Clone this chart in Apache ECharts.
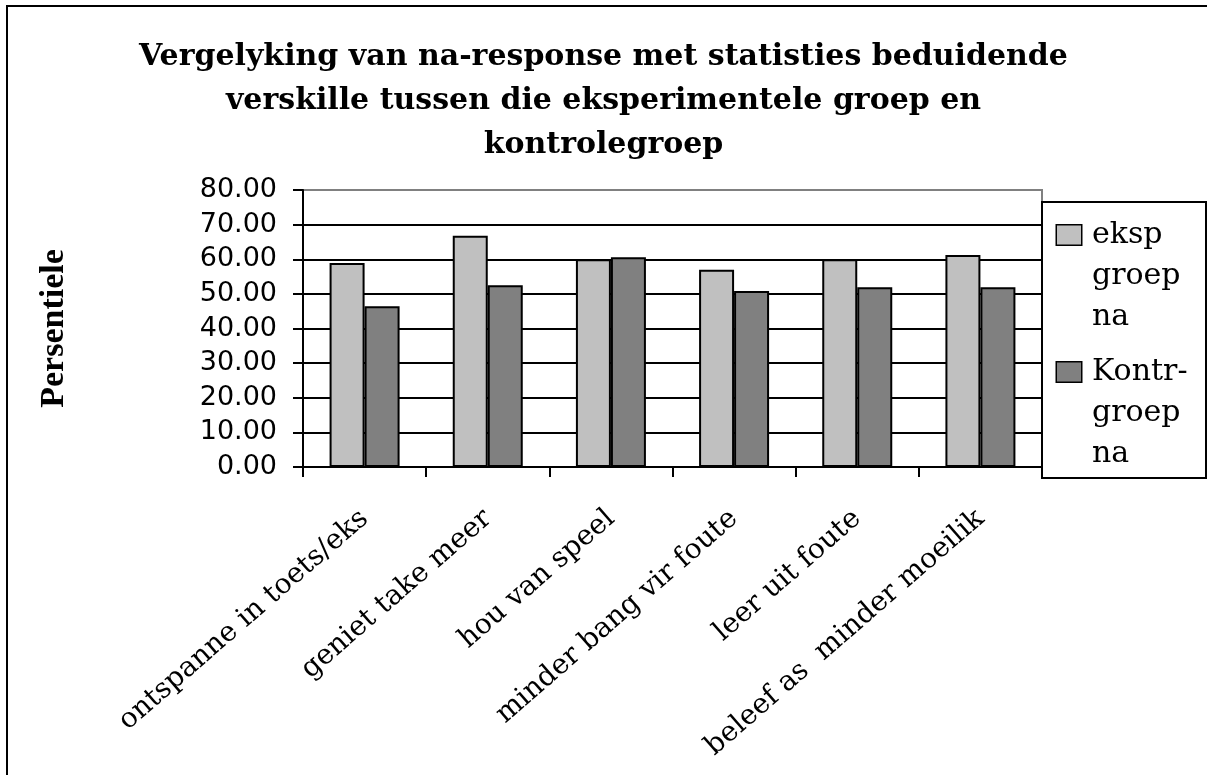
<!DOCTYPE html>
<html>
<head>
<meta charset="utf-8">
<script src="https://cdn.jsdelivr.net/npm/echarts@6/dist/echarts.min.js"></script>
<style>
html,body{margin:0;padding:0;background:#fff;}
#chart{width:1207px;height:775px;}
</style>
</head>
<body>
<div id="chart"></div>
<script>
const titleText = 'Vergelyking van na-response met statisties beduidende\nverskille tussen die eksperimentele groep en\nkontrolegroep';
const yAxisName = 'Persentiele';
const categories = ['ontspanne in toets/eks', 'geniet take meer', 'hou van speel', 'minder bang vir foute', 'leer uit foute', 'beleef as  minder moeilik'];
const seriesNames = ['eksp\ngroep\nna', 'Kontr-\ngroep\nna'];
const eksp = [58.9, 66.8, 60.0, 57.0, 60.0, 61.2];
const kontr = [46.4, 52.5, 60.6, 50.8, 51.9, 51.9];
const yTicks = { min: 0, max: 80, interval: 10 };

const colors = ['#C0C0C0', '#808080'];
const serif = 'DejaVu Serif';

const chart = echarts.init(document.getElementById('chart'), null, { renderer: 'canvas' });

const option = {
  animation: false,
  backgroundColor: '#fff',
  title: {
    text: titleText,
    left: 'center',
    top: 35,
    padding: 0,
    textStyle: { fontFamily: serif, fontWeight: 'bold', fontSize: 30, lineHeight: 44, color: '#000' }
  },
  legend: {
    orient: 'vertical',
    left: 1052,
    top: 220,
    padding: 0,
    itemGap: 25,
    itemWidth: 0,
    itemHeight: 0,
    selectedMode: false,
    itemStyle: { opacity: 0, borderWidth: 0 },
    data: seriesNames,
    formatter: function (name) {
      const lines = name.split('\n');
      const key = name === seriesNames[0] ? 'a' : 'b';
      return lines.map(function (l, i) {
        return (i === 0 ? '{' + key + '| }' : '{ind| }') + '{t|' + l + '}';
      }).join('\n');
    },
    textStyle: {
      rich: {
        a: { width: 24, height: 19, backgroundColor: colors[0], borderColor: '#000', borderWidth: 1.5, lineHeight: 41, verticalAlign: 'middle' },
        b: { width: 24, height: 19, backgroundColor: colors[1], borderColor: '#000', borderWidth: 1.5, lineHeight: 41, verticalAlign: 'middle' },
        ind: { width: 24, height: 19, lineHeight: 41, verticalAlign: 'middle' },
        t: { fontFamily: serif, fontSize: 30, lineHeight: 41, color: '#000', padding: [0, 0, 0, 11], verticalAlign: 'middle' }
      }
    }
  },
  grid: {
    left: 303, top: 190, width: 739, height: 277,
    show: true, borderColor: '#808080', borderWidth: 2, backgroundColor: 'transparent',
    containLabel: false
  },
  xAxis: {
    type: 'category',
    data: categories,
    boundaryGap: true,
    axisLine: { show: true, lineStyle: { color: '#000', width: 2 } },
    axisTick: { show: true, alignWithLabel: false, length: 10, lineStyle: { color: '#000', width: 2 }, interval: 0 },
    axisLabel: {
      interval: 0, rotate: 41, margin: 48,
      fontFamily: serif, fontSize: 28, color: '#000'
    },
    splitLine: { show: false }
  },
  yAxis: {
    type: 'value',
    min: yTicks.min, max: yTicks.max, interval: yTicks.interval,
    name: yAxisName,
    nameLocation: 'middle',
    nameGap: 232,
    nameRotate: 90,
    nameTextStyle: { fontFamily: 'Liberation Serif', fontWeight: 'bold', fontSize: 34, color: '#000' },
    axisLine: { show: true, lineStyle: { color: '#000', width: 2 } },
    axisTick: { show: true, length: 10, lineStyle: { color: '#000', width: 2 } },
    axisLabel: {
      margin: 26,
      fontFamily: 'DejaVu Sans', fontSize: 27, color: '#000',
      formatter: function (v) { return v.toFixed(2); }
    },
    splitLine: { show: true, showMinLine: false, showMaxLine: false, lineStyle: { color: '#000', width: 2 } }
  },
  series: [
    {
      name: seriesNames[0], type: 'bar', data: eksp,
      barWidth: 35, barGap: '0%',
      itemStyle: { color: colors[0], borderColor: '#000', borderWidth: 2 }
    },
    {
      name: seriesNames[1], type: 'bar', data: kontr,
      barWidth: 35, barGap: '0%',
      itemStyle: { color: colors[1], borderColor: '#000', borderWidth: 2 }
    }
  ],
  graphic: [
    {
      type: 'rect', silent: true, z: 100,
      shape: { x: 7, y: 6, width: 1400, height: 1000 },
      style: { fill: 'none', stroke: '#000', lineWidth: 2 }
    },
    {
      type: 'rect', silent: true, z: 100,
      shape: { x: 1042, y: 202, width: 164, height: 276 },
      style: { fill: 'none', stroke: '#000', lineWidth: 2 }
    }
  ]
};

chart.setOption(option);
</script>
</body>
</html>
